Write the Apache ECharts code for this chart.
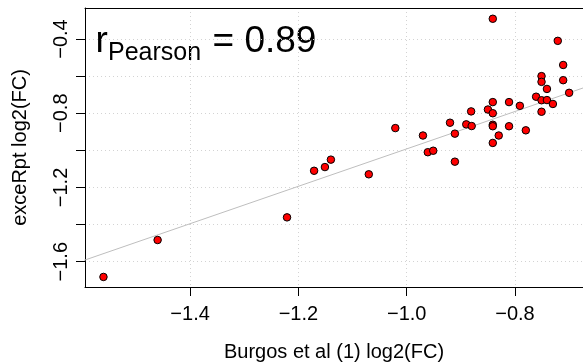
<!DOCTYPE html>
<html>
<head>
<meta charset="utf-8">
<script src="https://cdn.jsdelivr.net/npm/echarts@6/dist/echarts.min.js"></script>
<style>
html,body{margin:0;padding:0;background:#fff;}
#c{width:583px;height:363px;}
</style>
</head>
<body>
<div id="c"></div>
<script>
// Burgos et al (1) log2(FC)
const xValues = [-1.560, -1.460, -1.221, -1.171, -1.151, -1.140, -1.070, -1.021, -0.970, -0.961,
  -0.951, -0.920, -0.911, -0.911, -0.890, -0.880, -0.881, -0.850, -0.841, -0.841,
  -0.841, -0.841, -0.841, -0.841, -0.830, -0.811, -0.811, -0.791, -0.780, -0.761,
  -0.751, -0.751, -0.751, -0.751, -0.741, -0.741, -0.730, -0.721, -0.711, -0.711, -0.700];
// exceRpt log2(FC)
const yValues = [-1.682, -1.483, -1.361, -1.110, -1.090, -1.050, -1.129, -0.880, -0.920, -1.010,
  -1.002, -0.851, -0.910, -1.061, -0.860, -0.869, -0.790, -0.780, -0.291, -0.740,
  -0.800, -0.862, -0.870, -0.960, -0.920, -0.740, -0.870, -0.760, -0.892, -0.711,
  -0.600, -0.631, -0.730, -0.792, -0.669, -0.729, -0.750, -0.410, -0.540, -0.622, -0.690];
// fitted line end points
const fitX = [-1.60, -0.66];
const fitY = [-1.5967, -0.6495];
const xTicks = [-1.4, -1.2, -1.0, -0.8];
const yTicks = [-1.6, -1.4, -1.2, -1.0, -0.8, -0.6, -0.4];
const yLabelTicks = [-1.6, -1.2, -0.8, -0.4];
const pearsonValue = '0.89';
const xName = 'Burgos et al (1) log2(FC)';
const yName = 'exceRpt log2(FC)';

const FONT = 'Liberation Sans, Arial, Helvetica, sans-serif';
const fmt = v => Number(v).toFixed(1).replace('-', '\u2212');

const points = xValues.map((x, i) => [x, yValues[i]]);
const fitLine = fitX.map((x, i) => [x, fitY[i]]);

const X_MIN = -1.5941, X_MAX = -0.6744;

const chart = echarts.init(document.getElementById('c'), null, {renderer: 'canvas'});
chart.setOption({
  animation: false,
  backgroundColor: '#fff',
  grid: {left: 85, right: 0, top: 8, bottom: 76, containLabel: false, outerBoundsMode: 'none'},
  xAxis: [{
    type: 'value',
    min: X_MIN, max: X_MAX,
    name: xName, nameLocation: 'middle', nameGap: 55,
    nameTextStyle: {fontFamily: FONT, fontSize: 20, color: '#000'},
    axisLine: {show: true, onZero: false, lineStyle: {color: '#000', width: 1}},
    axisTick: {show: true, inside: false, length: 9, customValues: xTicks, lineStyle: {color: '#000'}},
    axisLabel: {customValues: xTicks, margin: 17, fontFamily: FONT, fontSize: 20, color: '#000', formatter: fmt},
    splitLine: {show: true, lineStyle: {color: '#d3d3d3', width: 1, type: [1, 3]}}
  }, {
    type: 'value', position: 'top',
    min: X_MIN, max: X_MAX,
    axisLine: {show: true, onZero: false, lineStyle: {color: '#000', width: 1}},
    axisTick: {show: false}, axisLabel: {show: false}, splitLine: {show: false}
  }],
  yAxis: {
    type: 'value',
    min: -1.7362, max: -0.2330,
    name: yName, nameLocation: 'middle', nameGap: 55,
    nameTextStyle: {fontFamily: FONT, fontSize: 20, color: '#000'},
    axisLine: {show: true, onZero: false, lineStyle: {color: '#000', width: 1}},
    axisTick: {show: true, inside: false, length: 9, customValues: yTicks, lineStyle: {color: '#000'}},
    axisLabel: {customValues: yLabelTicks, rotate: 90, margin: 14, fontFamily: FONT, fontSize: 20, color: '#000', formatter: fmt},
    splitLine: {show: true, lineStyle: {color: '#d3d3d3', width: 1, type: [1, 3]}}
  },
  series: [
    {
      type: 'line', data: fitLine, symbol: 'none', clip: true, z: 2,
      lineStyle: {color: '#bebebe', width: 1}, silent: true
    },
    {
      type: 'scatter', data: points, symbol: 'circle', symbolSize: 7.5, z: 3,
      itemStyle: {color: '#ff0000', borderColor: '#000', borderWidth: 1, opacity: 1}
    }
  ],
  graphic: [
    {type: 'text', x: 95.5, y: 41.7, style: {text: 'r', font: '37px ' + FONT, fill: '#000', verticalAlign: 'middle', align: 'left'}},
    {type: 'text', x: 108, y: 53.3, style: {text: 'Pearson', font: '25px ' + FONT, fill: '#000', verticalAlign: 'middle', align: 'left'}},
    {type: 'text', x: 212.5, y: 41.7, style: {text: '= ' + pearsonValue, font: '37px ' + FONT, fill: '#000', verticalAlign: 'middle', align: 'left'}}
  ]
});
</script>
</body>
</html>
